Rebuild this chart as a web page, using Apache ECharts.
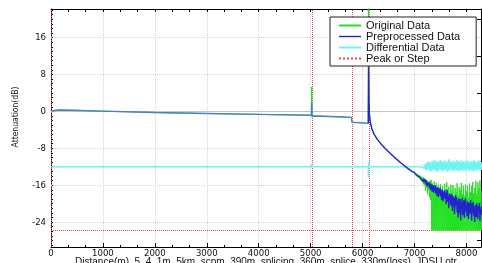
<!DOCTYPE html>
<html lang="en">
<head>
  <meta charset="UTF-8">
  <title>OTDR trace</title>
  <script src="https://cdn.jsdelivr.net/npm/echarts@6/dist/echarts.min.js"></script>
  <style>
    html, body { margin: 0; padding: 0; background: #fff; }
    #chart { width: 482px; height: 263px; }
  </style>
</head>
<body>
  <div id="chart"></div>

  <script>
    const legendNames = ['Original Data', 'Preprocessed Data', 'Differential Data', 'Peak or Step']
    const xTitle = 'Distance(m)  5_4_1m_5km_scpm_390m_splicing_360m_splice_330m(loss)_JDSU.otr'
    const yTitle = 'Attenuation(dB)'
    const yLabels = [-24, -16, -8, 0, 8, 16]
    const yRightTicks = [-28, -20, -12, -4, 4, 12, 20]
    const peakX = [0, 5025, 5805, 6130]
    const stepLevel = -25.7

    // [distance m, dB] up to the noisy tail
    const original = [
      [0, 0.1], [150, 0.3], [400, 0.25], [1000, 0.05], [2000, -0.25], [3000, -0.45], [4000, -0.65], [5015, -0.85],
      [5020, 5.3], [5025, -0.9], [5100, -1.0], [5500, -1.15], [5785, -1.3], [5795, -2.35], [6000, -2.5], [6108, -2.6],
      [6112, 26], [6120, 4], [6130, -0.5], [6150, -2.5], [6180, -3.8], [6220, -4.9], [6280, -6.0], [6350, -7.0],
      [6450, -8.2], [6550, -9.3], [6650, -10.3], [6750, -11.3], [6850, -12.2], [6950, -13.0]
    ]
    const preprocessed = [
      [0, 0.1], [150, 0.3], [400, 0.25], [1000, 0.05], [2000, -0.25], [3000, -0.45], [4000, -0.65], [5015, -0.85],
      [5020, 1.8], [5025, -1.1], [5100, -1.0], [5500, -1.15], [5785, -1.3], [5795, -2.35], [6000, -2.5], [6110, -2.6],
      [6116, 9.6], [6122, 2.5], [6130, -0.5], [6150, -2.5], [6180, -3.8], [6220, -4.9], [6280, -6.0], [6350, -7.0],
      [6450, -8.2], [6550, -9.3], [6650, -10.3], [6750, -11.3], [6850, -12.2], [6950, -13.0]
    ]
    const differential = [
      [0, -12], [5015, -12], [5020, -11.5], [5025, -12], [6110, -12], [6113, -14.4], [6116, -11.0], [6120, -12], [6990, -12]
    ]
    // the trace is drawn lighter before the big reflection
    const reflectionAt = 6110

    // noisy tail, one sample every 10 m from 7000 m
    const tailStart = 7000
    const tailStep = 10
    const originalTail = [
      -13.2, -13.7, -13.3, -13.9, -13.5, -14.1, -13.6, -14.3, -13.8, -14.4,
      -13.9, -14.7, -14.0, -15.1, -14.2, -15.4, -14.3, -15.8, -14.4, -16.0,
      -14.6, -17.2, -14.8, -16.5, -15.0, -18.0, -15.2, -17.1, -15.3, -18.6,
      -15.0, -19.2, -14.9, -25.8, -15.6, -25.8, -16.1, -25.8, -15.2, -25.8,
      -16.4, -25.8, -15.5, -25.8, -17.0, -25.8, -15.9, -25.8, -16.8, -25.8,
      -15.8, -25.8, -17.5, -25.8, -16.2, -25.8, -18.1, -25.8, -15.7, -25.8,
      -16.9, -25.8, -15.4, -25.8, -17.8, -25.8, -16.3, -25.8, -18.5, -25.8,
      -15.9, -25.8, -17.2, -25.8, -16.0, -25.8, -18.8, -25.8, -16.6, -25.8,
      -17.4, -25.8, -15.6, -25.8, -18.2, -25.8, -16.4, -25.8, -17.0, -25.8,
      -15.5, -25.8, -17.9, -25.8, -16.1, -25.8, -18.4, -25.8, -15.8, -25.8,
      -17.3, -25.8, -16.0, -25.8, -18.7, -25.8, -15.6, -25.8, -17.5, -25.8,
      -16.2, -25.8, -15.3, -25.8, -17.7, -25.8, -16.5, -25.8, -15.1, -25.8,
      -17.9, -25.8, -15.4, -25.8, -16.6, -25.8, -15.0, -25.8, -17.2, -25.8
    ]
    const preprocessedTail = [
      -13.3, -13.5, -13.4, -13.7, -13.6, -13.9, -13.8, -14.1, -13.9, -14.2,
      -14.1, -14.4, -14.0, -14.7, -14.3, -14.9, -14.5, -15.2, -14.6, -15.3,
      -14.8, -15.6, -14.9, -16.0, -15.2, -16.3, -15.5, -16.1, -15.4, -16.6,
      -15.6, -17.0, -15.8, -16.5, -17.4, -15.9, -16.8, -17.6, -16.2, -17.2,
      -16.0, -17.8, -16.6, -18.3, -16.4, -17.5, -18.6, -16.8, -17.9, -16.5,
      -18.4, -17.0, -19.2, -16.9, -18.0, -19.5, -17.3, -18.8, -17.1, -19.0,
      -17.6, -20.1, -18.2, -17.0, -19.6, -18.4, -21.0, -17.8, -19.3, -18.1,
      -20.4, -17.9, -19.0, -21.6, -18.3, -20.0, -18.7, -22.3, -19.1, -18.2,
      -20.6, -18.6, -21.8, -19.4, -23.0, -18.9, -20.8, -22.1, -19.0, -23.6,
      -19.8, -21.2, -18.7, -22.5, -20.1, -19.3, -23.1, -20.4, -18.9, -21.7,
      -20.3, -22.8, -19.5, -21.0, -23.4, -19.8, -20.9, -22.2, -19.2, -21.5,
      -23.7, -20.0, -21.9, -19.6, -22.6, -20.7, -24.0, -20.3, -21.4, -22.9,
      -19.9, -22.0, -23.3, -20.5, -21.6, -19.8, -23.8, -21.1, -22.4, -20.6
    ]
    const differentialTail = [
      -12, -12, -12, -12, -12, -12, -12, -12, -12, -12,
      -12, -12, -12, -12, -12, -12.1, -11.9, -12.2, -11.8, -12.3,
      -11.6, -12.5, -11.2, -12.8, -11.5, -12.3, -10.9, -12.6, -11.4, -12.9,
      -11.0, -12.4, -11.6, -13.0, -10.8, -12.2, -11.3, -12.7, -10.6, -12.5,
      -11.2, -12.9, -10.7, -12.3, -11.5, -13.1, -10.9, -12.6, -11.1, -12.4,
      -10.5, -12.8, -11.4, -12.2, -10.8, -13.0, -11.6, -12.5, -10.6, -12.7,
      -11.3, -12.4, -10.9, -13.1, -11.7, -12.2, -10.4, -12.9, -11.2, -12.6,
      -10.8, -12.3, -11.5, -12.9, -10.7, -12.6, -11.3, -13.0, -10.9, -12.2,
      -11.6, -12.8, -10.5, -12.4, -11.1, -13.1, -10.8, -12.5, -11.4, -12.7,
      -10.6, -12.9, -11.2, -12.3, -10.9, -12.8, -11.5, -12.4, -10.7, -13.0,
      -11.3, -12.6, -10.6, -12.2, -11.6, -12.9, -10.9, -12.5, -11.1, -12.8,
      -10.8, -12.4, -11.4, -13.0, -10.5, -12.7, -11.2, -12.3, -10.9, -12.9,
      -11.5, -12.6, -10.7, -12.2, -11.3, -12.8, -10.6, -12.5, -11.0, -12.7
    ]

    const dom = document.getElementById('chart')
    const myChart = echarts.init(dom, null, { renderer: 'canvas' })

    const tickFont = 'Liberation Sans Narrow, DejaVu Sans Condensed, sans-serif'
    const textFont = 'Liberation Sans, Arial, sans-serif'
    const yMin = -29.4
    const yMax = 22.2
    const xMax = 8280
    const blueLight = '#4b80c0'
    const blueDark = '#2424cc'
    const peakRed = '#f04848'

    function withTail(head, tail) {
      return head.concat(tail.map((v, i) => [tailStart + i * tailStep, v]))
    }

    const prepAll = withTail(preprocessed, preprocessedTail)
    const prepBefore = prepAll.filter(p => p[0] <= reflectionAt)
    const prepAfter = prepAll.filter(p => p[0] >= reflectionAt)

    // small ticks on the left axis, one per dB
    const yMinorTicks = []
    for (let v = -29; v <= 22; v++) yMinorTicks.push(v)

    const noOnZero = { show: true, onZero: false, lineStyle: { color: '#000', width: 1 } }

    const option = {
      animation: false,
      backgroundColor: '#fff',
      grid: { left: 51, right: 1, top: 9, bottom: 16, outerBoundsMode: 'none', containLabel: false },
      legend: {
        orient: 'vertical',
        left: 330,
        top: 17,
        padding: [3, 16, 2, 8],
        itemGap: 0,
        itemWidth: 22,
        itemHeight: 11,
        backgroundColor: '#fff',
        borderColor: '#222',
        borderWidth: 1,
        borderRadius: 0,
        itemStyle: { color: 'rgba(0,0,0,0)', borderWidth: 0, opacity: 0 },
        textStyle: { fontSize: 11, fontFamily: textFont, color: '#111', lineHeight: 11 },
        data: [
          { name: legendNames[0] },
          { name: legendNames[1], lineStyle: { color: blueDark, width: 1.4 } },
          { name: legendNames[2] },
          { name: legendNames[3] }
        ]
      },
      xAxis: [
        {
          type: 'value',
          position: 'bottom',
          min: 0,
          max: xMax,
          interval: 1000,
          name: xTitle,
          nameLocation: 'middle',
          nameGap: 10,
          nameMoveOverlap: false,
          nameTextStyle: { fontSize: 10, fontFamily: textFont, color: '#111' },
          axisLine: noOnZero,
          axisTick: { show: true, inside: true, length: 4, lineStyle: { color: '#000' } },
          minorTick: { show: true, splitNumber: 3, length: 2, lineStyle: { color: '#000' } },
          axisLabel: { fontSize: 9.5, fontFamily: tickFont, color: '#111', margin: 2, showMaxLabel: false, formatter: v => String(v) },
          splitLine: { show: true, lineStyle: { color: '#d4d4d4', type: 'dotted', width: 1 } }
        },
        {
          type: 'value',
          position: 'top',
          min: 0,
          max: xMax,
          interval: 1000,
          axisLine: noOnZero,
          axisTick: { show: true, inside: true, length: 3, lineStyle: { color: '#000' } },
          minorTick: { show: true, splitNumber: 3, length: 3, lineStyle: { color: '#000' } },
          axisLabel: { show: false },
          splitLine: { show: false }
        }
      ],
      yAxis: [
        {
          type: 'value',
          position: 'left',
          min: yMin,
          max: yMax,
          name: yTitle,
          nameLocation: 'middle',
          nameGap: 31,
          nameMoveOverlap: false,
          nameTextStyle: { fontSize: 8.5, fontFamily: tickFont, color: '#111', padding: [0, 0, 0, 22] },
          axisLine: noOnZero,
          axisTick: { show: true, inside: true, length: 2, customValues: yMinorTicks, lineStyle: { color: '#000' } },
          axisLabel: { customValues: yLabels, fontSize: 9.5, fontFamily: tickFont, color: '#111', margin: 5 },
          splitLine: { show: false }
        },
        {
          type: 'value',
          position: 'right',
          min: yMin,
          max: yMax,
          axisLine: noOnZero,
          axisTick: { show: true, inside: true, length: 4, customValues: yRightTicks, lineStyle: { color: '#000' } },
          axisLabel: { show: false },
          splitLine: { show: false }
        }
      ],
      series: [
        {
          // horizontal grid lines
          name: 'grid',
          type: 'line',
          data: [],
          z: 1,
          markLine: {
            silent: true,
            z: 1,
            symbol: 'none',
            label: { show: false },
            lineStyle: { color: '#d4d4d4', type: 'dotted', width: 1 },
            data: yLabels.filter(v => v !== 0).map(v => ({ yAxis: v }))
              .concat([{ yAxis: 0, lineStyle: { color: '#c4c4c4', type: 'solid', width: 1 } }])
          }
        },
        {
          name: legendNames[3],
          type: 'line',
          data: [],
          z: 2,
          symbol: 'none',
          itemStyle: { color: peakRed },
          lineStyle: { color: peakRed, type: 'dotted', width: 1 },
          markLine: {
            silent: true,
            z: 2,
            symbol: 'none',
            label: { show: false },
            lineStyle: { color: peakRed, type: 'dotted', width: 1 },
            data: peakX.map(x => ({ xAxis: x })).concat([{ yAxis: stepLevel }])
          }
        },
        {
          name: legendNames[0],
          type: 'line',
          z: 3,
          symbol: 'none',
          itemStyle: { color: '#22e022' },
          lineStyle: { color: '#22e022', width: 1 },
          data: withTail(original, originalTail)
        },
        {
          name: legendNames[1],
          type: 'line',
          z: 4,
          symbol: 'none',
          itemStyle: { color: blueDark },
          lineStyle: { color: blueDark, width: 1.4 },
          data: prepAfter
        },
        {
          name: legendNames[1],
          type: 'line',
          z: 4,
          symbol: 'none',
          itemStyle: { color: blueLight },
          lineStyle: { color: blueLight, width: 1.4 },
          data: prepBefore
        },
        {
          name: legendNames[2],
          type: 'line',
          z: 3,
          symbol: 'none',
          itemStyle: { color: '#6ff2f2' },
          lineStyle: { color: '#6ff2f2', width: 1.6 },
          data: withTail(differential, differentialTail)
        }
      ]
    }

    myChart.setOption(option)
  </script>
</body>
</html>
